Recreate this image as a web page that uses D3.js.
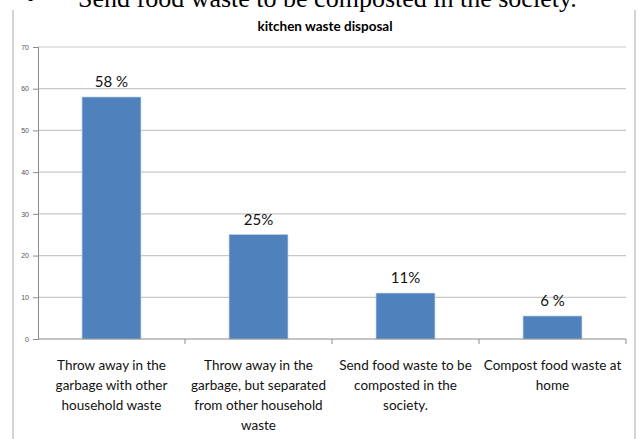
<!DOCTYPE html>
<meta charset="utf-8">
<script src="https://d3js.org/d3.v7.min.js"></script>
<style>
body { margin: 0; background: #fff; }
svg { display: block; }
</style>
<div id="chart"></div>
<script>
var categories = [
  ["Throw away in the", "garbage with other", "household waste"],
  ["Throw away in the", "garbage, but separated", "from other household", "waste"],
  ["Send food waste to be", "composted in the", "society."],
  ["Compost food waste at", "home"]
];
var values = [58, 25, 11, 5.5];
var valueLabels = ["58 %", "25%", "11%", "6 %"];
var yTicks = [0, 10, 20, 30, 40, 50, 60, 70];

var W = 644, H = 439;
var plotLeft = 38, plotRight = 626, plotTop = 47, plotBottom = 339;

var svg = d3.select("#chart").append("svg")
  .attr("width", W).attr("height", H);

// clipped line of document text above the chart
svg.append("text")
  .attr("x", 26).attr("y", 7)
  .style("font-family", "Liberation Serif")
  .style("font-size", "26px")
  .text("•");
svg.append("text")
  .attr("x", 78).attr("y", 7)
  .style("font-family", "Liberation Serif")
  .style("font-size", "26px")
  .attr("fill", "#000")
  .text("Send food waste to be composted in the society.");

// chart frame (top is cut off)
svg.append("line").attr("x1", 13).attr("x2", 13).attr("y1", 10).attr("y2", H)
  .attr("stroke", "#d4d4d4").attr("stroke-width", 2);
svg.append("line").attr("x1", 635).attr("x2", 635).attr("y1", 10).attr("y2", H)
  .attr("stroke", "#d4d4d4").attr("stroke-width", 2);

svg.append("text")
  .attr("x", 325).attr("y", 31)
  .attr("text-anchor", "middle")
  .style("font-family", "Lato, 'Liberation Sans'")
  .style("font-weight", "bold")
  .style("font-size", "13.5px")
  .attr("fill", "#000")
  .text("kitchen waste disposal");

var x = d3.scaleBand()
  .domain(d3.range(categories.length))
  .range([plotLeft, plotRight])
  .paddingInner(0.6)
  .paddingOuter(0.3);
var xEdge = d3.scaleLinear().domain([0, categories.length]).range([plotLeft, plotRight]);

var y = d3.scaleLinear().domain([0, 70]).range([plotBottom, plotTop]);

// gridlines
svg.append("g")
  .selectAll("line")
  .data(yTicks.slice(1))
  .enter().append("line")
    .attr("x1", plotLeft).attr("x2", plotRight)
    .attr("y1", function(d) { return y(d); })
    .attr("y2", function(d) { return y(d); })
    .attr("stroke", "#c8c8c8").attr("stroke-width", 1.2);

// y axis
var yAxis = svg.append("g")
  .attr("transform", "translate(" + plotLeft + ",0)")
  .call(d3.axisLeft(y).tickValues(yTicks).tickSize(5).tickPadding(4));
yAxis.select(".domain").attr("stroke", "#8a8a8a");
yAxis.selectAll(".tick line").attr("stroke", "#8a8a8a");
yAxis.selectAll(".tick text")
  .style("font-family", "Liberation Sans")
  .style("font-size", "7px")
  .attr("fill", "#555");

// bars
svg.append("g")
  .selectAll("rect")
  .data(values)
  .enter().append("rect")
    .attr("x", function(d, i) { return x(i); })
    .attr("y", function(d) { return y(d); })
    .attr("width", x.bandwidth())
    .attr("height", function(d) { return plotBottom - y(d); })
    .attr("fill", "#4f81bd")
    .attr("stroke", "#a7c0de").attr("stroke-width", 0.6);

// value labels
svg.append("g")
  .selectAll("text")
  .data(values)
  .enter().append("text")
    .attr("x", function(d, i) { return x(i) + x.bandwidth() / 2; })
    .attr("y", function(d) { return y(d) - 10; })
    .attr("text-anchor", "middle")
    .style("font-family", "Lato, 'Liberation Sans'")
    .style("font-size", "15px")
    .attr("fill", "#111")
    .text(function(d, i) { return valueLabels[i]; });

// x axis
svg.append("line")
  .attr("x1", plotLeft).attr("x2", plotRight).attr("y1", plotBottom).attr("y2", plotBottom)
  .attr("stroke", "#8a8a8a");
svg.append("g")
  .selectAll("line")
  .data(d3.range(1, categories.length + 1))
  .enter().append("line")
    .attr("x1", function(d) { return xEdge(d); })
    .attr("x2", function(d) { return xEdge(d); })
    .attr("y1", plotBottom).attr("y2", plotBottom + 5)
    .attr("stroke", "#8a8a8a");

// category labels
var catG = svg.append("g")
  .selectAll("text")
  .data(categories)
  .enter().append("text")
    .attr("text-anchor", "middle")
    .style("font-family", "Lato, 'Liberation Sans'")
    .style("font-size", "13.5px")
    .attr("fill", "#111");
catG.selectAll("tspan")
  .data(function(d, i) { return d.map(function(s) { return {s: s, i: i}; }); })
  .enter().append("tspan")
    .attr("x", function(d) { return x(d.i) + x.bandwidth() / 2; })
    .attr("y", function(d, j) { return 370 + j * 20; })
    .text(function(d) { return d.s; });
</script>
